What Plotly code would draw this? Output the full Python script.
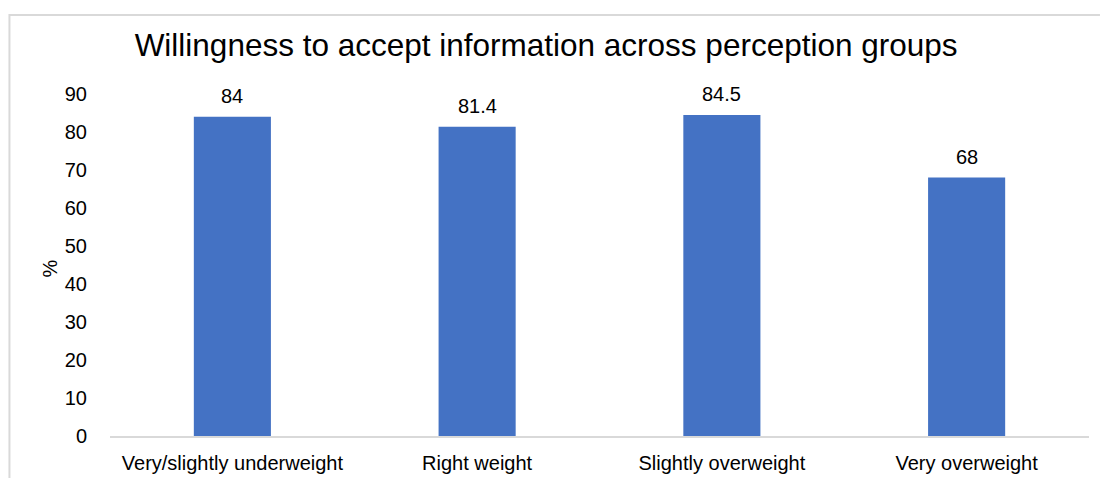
import plotly.graph_objects as go

categories = ["Very/slightly underweight", "Right weight", "Slightly overweight", "Very overweight"]
values = [84, 81.4, 84.5, 68]
value_labels = ["84", "81.4", "84.5", "68"]
y_ticks = [0, 10, 20, 30, 40, 50, 60, 70, 80, 90]

BAR_COLOR = "#4472C4"
FONT = "Liberation Sans, Arial, sans-serif"

fig = go.Figure(
    go.Bar(
        x=categories,
        y=values,
        marker=dict(color=BAR_COLOR, line=dict(width=0)),
        width=0.315,
        cliponaxis=False,
    )
)

# value labels sit a little above each bar
for cat, val, lab in zip(categories, values, value_labels):
    fig.add_annotation(
        x=cat,
        y=val,
        text=lab,
        showarrow=False,
        yanchor="bottom",
        yshift=8,
        font=dict(family=FONT, size=20, color="#000000"),
    )

# y-axis title
fig.add_annotation(
    xref="paper",
    yref="paper",
    x=-0.0613,
    y=0.49,
    text="%",
    textangle=-90,
    showarrow=False,
    xanchor="center",
    yanchor="middle",
    font=dict(family=FONT, size=20, color="#000000"),
)

fig.update_layout(
    width=1101,
    height=478,
    margin=dict(l=110, r=12, t=94, b=42),
    paper_bgcolor="white",
    plot_bgcolor="white",
    font=dict(family=FONT, color="#000000"),
    showlegend=False,
    title=dict(
        text="Willingness to accept information across perception groups",
        font=dict(family=FONT, size=31.5, color="#000000"),
        xref="container",
        x=0.496,
        xanchor="center",
        yref="container",
        y=0.905,
        yanchor="middle",
    ),
    xaxis=dict(
        automargin=False,
        showgrid=False,
        showline=True,
        linecolor="#D9D9D9",
        linewidth=2,
        ticks="",
        ticklabelstandoff=8,
        tickfont=dict(family=FONT, size=20, color="#000000"),
    ),
    yaxis=dict(
        automargin=False,
        range=[0, 90],
        tickvals=y_ticks,
        showgrid=False,
        zeroline=False,
        showline=False,
        ticks="",
        tickfont=dict(family=FONT, size=20, color="#000000"),
        ticklabelstandoff=22,
    ),
    shapes=[
        dict(
            type="path",
            xref="paper",
            yref="paper",
            path="M -0.1027 -0.2 L -0.1027 1.2311 L 1.0112 1.2311",
            line=dict(color="#D9D9D9", width=2),
        )
    ],
)

fig.write_html("out.html")
